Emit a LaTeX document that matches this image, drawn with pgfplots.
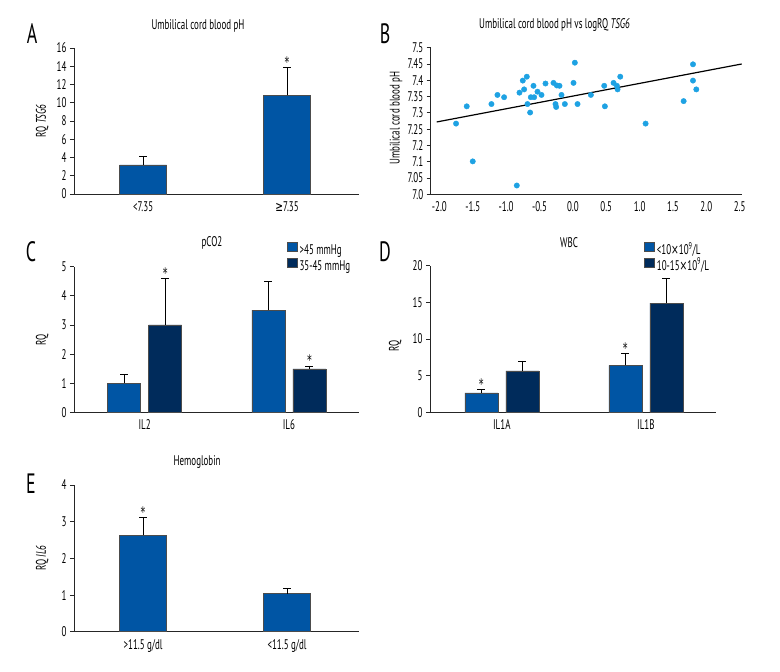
\documentclass[border=0pt]{standalone}
\usepackage{pgfplots}
\pgfplotsset{compat=1.18}
\usepackage{fontspec}
\setmainfont{PT Sans}[FakeStretch=0.64]
\newfontfamily\dv{DejaVu Sans}[FakeStretch=0.66]
\definecolor{barA}{HTML}{0055A4}
\definecolor{barB}{HTML}{002B5B}
\definecolor{dot}{HTML}{1EA2E3}
\newcommand{\fs}{\fontsize{14}{14}\selectfont}
\pgfplotsset{
 base/.style={scale only axis, axis lines*=left,
   axis line style={-, line width=0.7pt, black!85},
   tick align=outside, xtick style={draw=none},
   ytick style={line width=0.7pt, black!85}, major tick length=4pt,
   ymin=0, tick label style={font=\fs},
   /pgf/number format/assume math mode=true,
   label style={font=\fs}, title style={font=\fs, anchor=center},
   clip=false},
 bars/.style={ybar, xmin=-0.48, xmax=1.5, xtick={0,1}},
 eb/.style={error bars/.cd, y dir=plus, y explicit,
   error bar style={line width=0.7pt,black},
   error mark options={rotate=90, black, line width=0.7pt, mark size=4pt}},
 leg/.style={legend image code/.code={\draw[##1,draw=black!70,line width=0.5pt] (0pt,-1pt) rectangle (10pt,8pt);},
   legend style={draw=none, fill=none, anchor=north west, font=\fs,
   inner sep=0pt, row sep=0pt, cells={anchor=west, inner ysep=0pt, inner xsep=1.5pt, text height=9.5pt, text depth=3.8pt}}},
}
\newcommand{\astk}{\dv\fontsize{14.5}{14.5}\selectfont *}
\begin{document}
\begin{tikzpicture}
\useasboundingbox (0,0) rectangle (780pt,672pt);
% panel letters
\node[font=\fontsize{28}{28}\selectfont] at (32pt,638pt) {A};
\node[font=\fontsize{28}{28}\selectfont] at (385pt,638pt) {B};
\node[font=\fontsize{28}{28}\selectfont] at (31pt,420pt) {C};
\node[font=\fontsize{28}{28}\selectfont] at (385pt,420pt) {D};
\node[font=\fontsize{28}{28}\selectfont] at (31pt,188pt) {E};

% A
\begin{axis}[base, bars, at={(74pt,478pt)}, anchor=south west,
  width=285pt, height=146pt, bar width=47pt, ymax=16, ytick={0,2,...,16},
  xticklabels={<7.35,{\dv ≥}7.35},
  ylabel={RQ \textit{TSG6}},
  ylabel style={at={(axis description cs:-0.112,0.5)}, anchor=center},
  title={Umbilical cord blood pH},
  title style={at={(axis description cs:0.435,1.11)}}]
\addplot[fill=barA, draw=black!70, line width=0.5pt, eb] coordinates {(0,3.2) +- (0,0.96) (1,10.8) +- (0,3.1)};
\node[anchor=base] at (axis cs:1,13.9) {\astk};
\end{axis}

% B
\begin{axis}[base, at={(430.7pt,477.7pt)}, anchor=south west,
  width=311pt, height=146.6pt, xmin=-2.13, xmax=2.53, ymin=7.05, ymax=7.5,
  ytick={7.05,7.1,7.15,7.2,7.25,7.3,7.35,7.4,7.45,7.5},
  yticklabels={7.0,7.05,7.1,7.2,7.25,7.3,7.35,7.4,7.45,7.5},
  xtick={-2,-1.5,-1,-0.5,0,0.5,1,1.5,2,2.5},
  xticklabels={-2.0,-1.5,-1.0,-0.5,0.0,0.5,1.0,1.5,2.0,2.5},
  ylabel={Umbilical cord blood pH},
  ylabel style={at={(axis description cs:-0.1116,0.52)}, anchor=center},
  title={Umbilical cord blood pH vs logRQ \textit{TSG6}},
  title style={at={(axis description cs:0.398,1.114)}}]
\addplot[only marks, mark=*, mark size=2.7pt, color=dot, mark options={draw=dot, fill=dot}] coordinates {
(-1.75,7.267)(-1.59,7.320)(-1.50,7.151)(-1.22,7.327)(-1.13,7.355)(-1.03,7.348)
(-0.84,7.077)(-0.80,7.362)(-0.75,7.399)(-0.73,7.372)(-0.69,7.411)(-0.68,7.327)
(-0.64,7.301)(-0.63,7.348)(-0.59,7.383)(-0.58,7.348)(-0.53,7.365)(-0.47,7.355)
(-0.41,7.390)(-0.29,7.392)(-0.26,7.327)(-0.25,7.318)(-0.24,7.384)(-0.20,7.383)
(-0.17,7.355)(-0.12,7.327)(0.01,7.392)(0.03,7.454)(0.07,7.327)(0.27,7.355)
(0.47,7.383)(0.48,7.320)(0.61,7.392)(0.66,7.383)(0.67,7.372)(0.71,7.411)
(1.09,7.267)(1.66,7.336)(1.80,7.449)(1.80,7.399)(1.85,7.372)};
\addplot[black, line width=1.2pt, no marks] coordinates {(-2.04,7.272)(2.53,7.450)};
\end{axis}

% C
\begin{axis}[base, bars, at={(74pt,259.7pt)}, anchor=south west,
  width=285pt, height=145.6pt, xmin=-0.49, xmax=1.486, ybar=8pt, bar width=33pt,
  ymax=5, ytick={0,1,...,5},
  xticklabels={IL2,IL6},
  ylabel={RQ},
  ylabel style={at={(axis description cs:-0.112,0.5)}, anchor=center},
  title={pCO2},
  title style={at={(axis description cs:0.484,1.12)}},
  leg, legend style={at={(axis description cs:0.747,1.17)}}]
\addplot[fill=barA, draw=black!70, line width=0.5pt, eb] coordinates {(0,1.0) +- (0,0.30) (1,3.51) +- (0,0.98)};
\addplot[fill=barB, draw=black!70, line width=0.5pt, eb] coordinates {(0,3.0) +- (0,1.60) (1,1.49) +- (0,0.10)};
\legend{>45 mmHg,35-45 mmHg}
\node[anchor=base, xshift=20.5pt] at (axis cs:0,4.6) {\astk};
\node[anchor=base, xshift=20.5pt] at (axis cs:1,1.59) {\astk};
\end{axis}

% D
\begin{axis}[base, bars, at={(430pt,259.7pt)}, anchor=south west,
  width=286pt, height=146.6pt, xmin=-0.4986, xmax=1.487, ybar=8pt, bar width=33pt,
  ymax=20, ytick={0,5,...,20},
  xticklabels={IL1A,IL1B},
  ylabel={RQ},
  ylabel style={at={(axis description cs:-0.122,0.45)}, anchor=center},
  title={WBC},
  title style={at={(axis description cs:0.486,1.114)}},
  leg, legend style={at={(axis description cs:0.749,1.163)}}]
\addplot[fill=barA, draw=black!70, line width=0.5pt, eb] coordinates {(0,2.64) +- (0,0.45) (1,6.41) +- (0,1.64)};
\addplot[fill=barB, draw=black!70, line width=0.5pt, eb] coordinates {(0,5.64) +- (0,1.36) (1,14.9) +- (0,3.4)};
\legend{<10{\dv ×}10\textsuperscript{9}/L,10-15{\dv ×}10\textsuperscript{9}/L}
\node[anchor=base, xshift=-20.5pt] at (axis cs:0,3.09) {\astk};
\node[anchor=base, xshift=-20.5pt] at (axis cs:1,8.05) {\astk};
\end{axis}

% E
\begin{axis}[base, bars, at={(74pt,40.3pt)}, anchor=south west,
  width=285pt, height=146.7pt, bar width=47pt, ymax=4, ytick={0,1,...,4},
  xticklabels={>11.5 g/dl,<11.5 g/dl},
  ylabel={RQ \textit{IL6}},
  ylabel style={at={(axis description cs:-0.112,0.5)}, anchor=center},
  title={Hemoglobin},
  title style={at={(axis description cs:0.432,1.116)}}]
\addplot[fill=barA, draw=black!70, line width=0.5pt, eb] coordinates {(0,2.63) +- (0,0.49) (1,1.04) +- (0,0.15)};
\node[anchor=base] at (axis cs:0,3.12) {\astk};
\end{axis}
\end{tikzpicture}
\end{document}
